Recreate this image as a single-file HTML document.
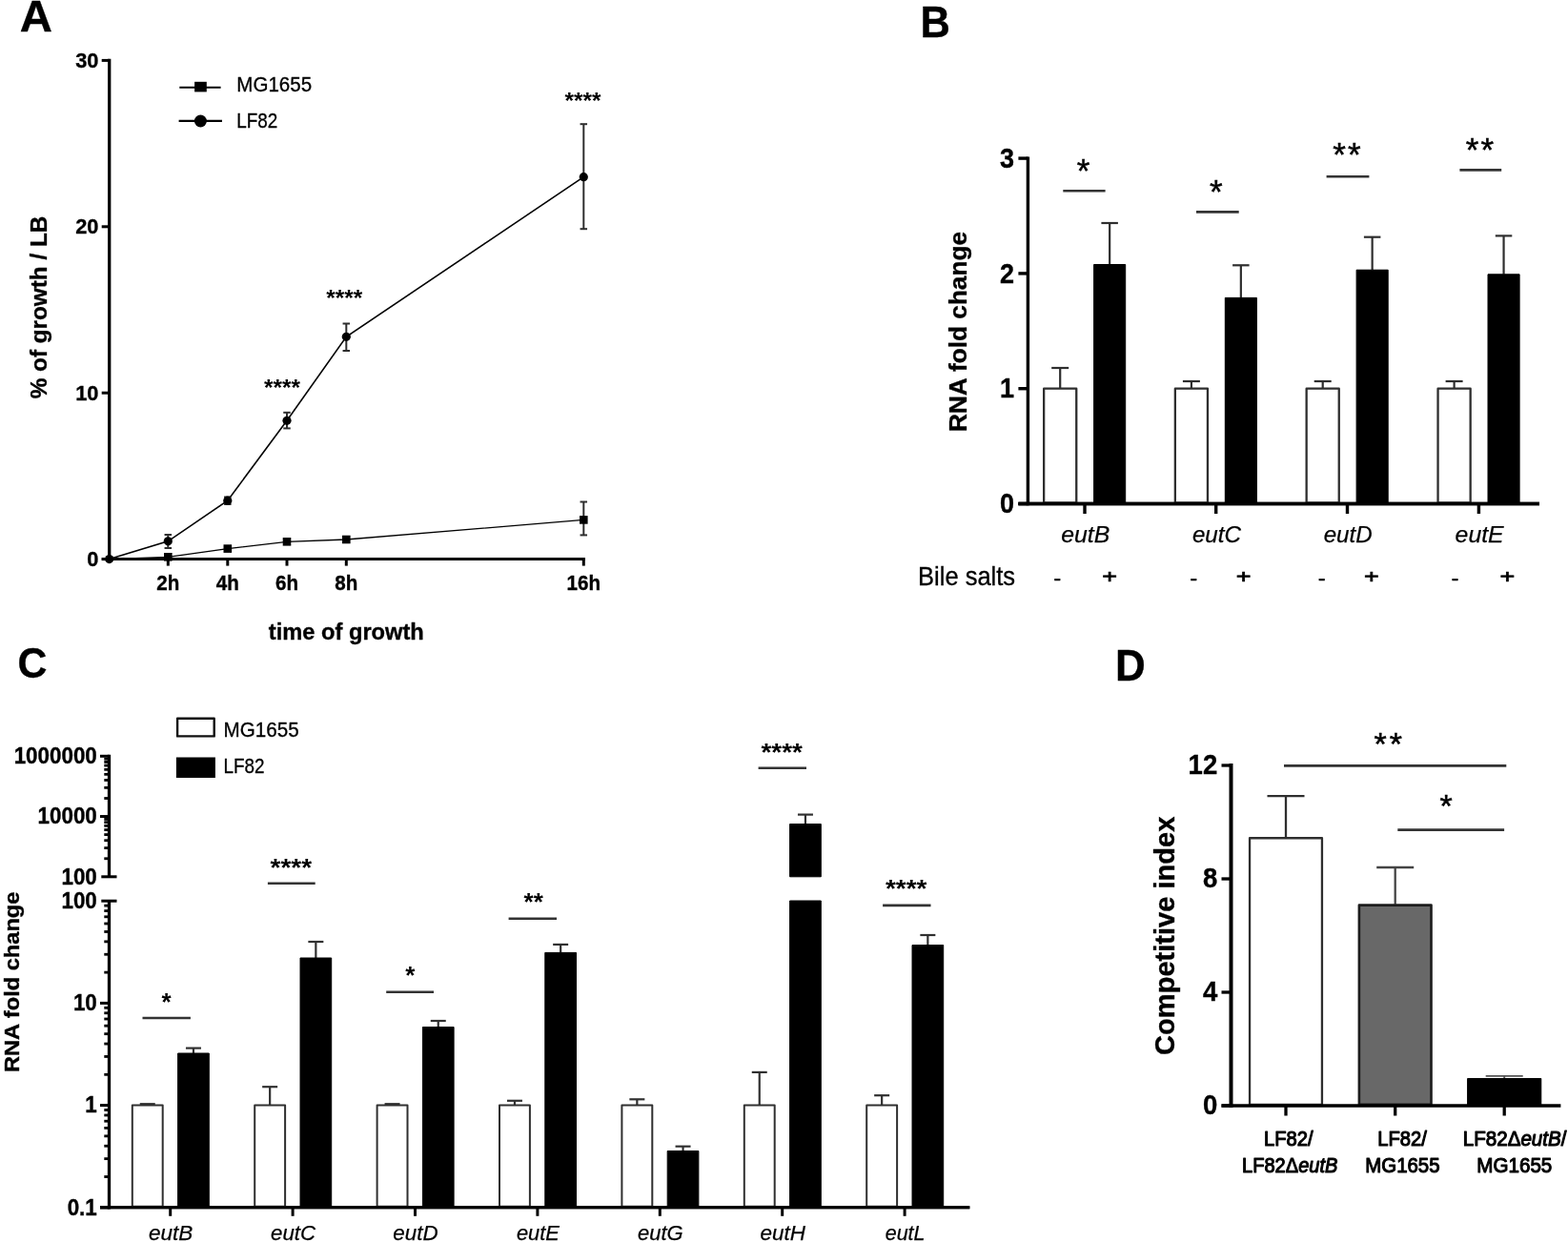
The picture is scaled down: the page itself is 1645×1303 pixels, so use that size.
<!DOCTYPE html>
<html lang="en">
<head>
<meta charset="utf-8">
<title>Figure: ethanolamine utilisation (eut) in LF82 and MG1655</title>
<style>
html,body{margin:0;padding:0;background:#fff;}
body{width:1645px;height:1303px;overflow:hidden;}
svg{display:block;}
text{font-family:"Liberation Sans",sans-serif;fill:#000;}
.b{font-weight:bold;stroke:#000;stroke-width:0.35px;}
.t{font-weight:bold;}
.r{font-weight:normal;}
.i{font-weight:normal;font-style:italic;stroke:#000;stroke-width:0.25px;}
.m{font-weight:normal;stroke:#000;stroke-width:1px;stroke-linejoin:round;}
.l{font-weight:normal;stroke:#000;stroke-width:0.3px;}
.s{font-weight:normal;stroke:#000;stroke-width:0.5px;}
.p{font-weight:normal;stroke:#000;stroke-width:0.9px;}
</style>
</head>
<body>
<svg width="1645" height="1303" viewBox="0 0 1645 1303">
<rect x="0" y="0" width="1645" height="1303" fill="#fff"/>
<g id="panelA">
<text class="b" transform="translate(20.72 32.8) scale(1.023 1)" font-size="46.25">A</text>
<line x1="114.7" y1="61.75" x2="114.7" y2="588.25" stroke="#000" stroke-width="3.3"/>
<line x1="106.7" y1="586.6" x2="613.95" y2="586.6" stroke="#000" stroke-width="3"/>
<line x1="106.7" y1="586.6" x2="114.7" y2="586.6" stroke="#000" stroke-width="3"/>
<text class="b" transform="translate(103.5 594.2) scale(1 1.05)" font-size="21.8" text-anchor="end">0</text>
<line x1="106.7" y1="412.2" x2="114.7" y2="412.2" stroke="#000" stroke-width="3"/>
<text class="b" transform="translate(103.5 419.8) scale(1 1.05)" font-size="21.8" text-anchor="end">10</text>
<line x1="106.7" y1="237.8" x2="114.7" y2="237.8" stroke="#000" stroke-width="3"/>
<text class="b" transform="translate(103.5 245.4) scale(1 1.05)" font-size="21.8" text-anchor="end">20</text>
<line x1="106.7" y1="63.4" x2="114.7" y2="63.4" stroke="#000" stroke-width="3"/>
<text class="b" transform="translate(103.5 71) scale(1 1.05)" font-size="21.8" text-anchor="end">30</text>
<line x1="176.3" y1="586.6" x2="176.3" y2="593.6" stroke="#000" stroke-width="3"/>
<text class="b" transform="translate(176.3 619.3) scale(1 1.1)" font-size="20.6" text-anchor="middle">2h</text>
<line x1="238.8" y1="586.6" x2="238.8" y2="593.6" stroke="#000" stroke-width="3"/>
<text class="b" transform="translate(238.8 619.3) scale(1 1.1)" font-size="20.6" text-anchor="middle">4h</text>
<line x1="301" y1="586.6" x2="301" y2="593.6" stroke="#000" stroke-width="3"/>
<text class="b" transform="translate(301 619.3) scale(1 1.1)" font-size="20.6" text-anchor="middle">6h</text>
<line x1="363.3" y1="586.6" x2="363.3" y2="593.6" stroke="#000" stroke-width="3"/>
<text class="b" transform="translate(363.3 619.3) scale(1 1.1)" font-size="20.6" text-anchor="middle">8h</text>
<line x1="612.3" y1="586.6" x2="612.3" y2="593.6" stroke="#000" stroke-width="3"/>
<text class="b" transform="translate(612.3 619.3) scale(1 1.1)" font-size="20.6" text-anchor="middle">16h</text>
<text class="b" x="363.3" y="671.3" font-size="23.5" text-anchor="middle" textLength="163" lengthAdjust="spacingAndGlyphs">time of growth</text>
<text class="b" transform="translate(49.4 322.5) rotate(-90)" font-size="23.6" text-anchor="middle" textLength="191.5" lengthAdjust="spacingAndGlyphs">% of growth / LB</text>
<line x1="188.3" y1="91.7" x2="231.6" y2="91.7" stroke="#000" stroke-width="2.1"/>
<rect x="204.1" y="85.8" width="12.7" height="10.6" fill="#000"/>
<text class="l" transform="translate(248.3 95.8) scale(1 1.07)" font-size="20.5" textLength="78.8" lengthAdjust="spacingAndGlyphs">MG1655</text>
<line x1="187.6" y1="126.9" x2="233" y2="126.9" stroke="#000" stroke-width="2.1"/>
<circle cx="210.4" cy="127" r="6.5" fill="#000"/>
<text class="l" transform="translate(248.3 134) scale(1 1.07)" font-size="20.5" textLength="43" lengthAdjust="spacingAndGlyphs">LF82</text>
<polyline points="114.7,586.6 176.3,584.3 238.8,575.6 301,568.3 363.3,566 612.3,545.4" fill="none" stroke="#000" stroke-width="1.3"/>
<polyline points="114.7,586.6 176.3,567.8 238.8,525.2 301,441.3 363.3,353.3 612.3,185.7" fill="none" stroke="#000" stroke-width="1.6"/>
<rect x="172" y="580" width="8.6" height="8.6" fill="#000"/>
<rect x="234.5" y="571.3" width="8.6" height="8.6" fill="#000"/>
<rect x="296.7" y="564" width="8.6" height="8.6" fill="#000"/>
<rect x="359" y="561.7" width="8.6" height="8.6" fill="#000"/>
<line x1="612.3" y1="526.5" x2="612.3" y2="561.4" stroke="#2e2e2e" stroke-width="2"/>
<line x1="608.55" y1="526.5" x2="616.05" y2="526.5" stroke="#2e2e2e" stroke-width="2"/>
<line x1="608.55" y1="561.4" x2="616.05" y2="561.4" stroke="#2e2e2e" stroke-width="2"/>
<rect x="608" y="541.1" width="8.6" height="8.6" fill="#000"/>
<circle cx="114.7" cy="586.6" r="4.6" fill="#000"/>
<line x1="176.3" y1="561" x2="176.3" y2="575" stroke="#2e2e2e" stroke-width="2"/>
<line x1="172.55" y1="561" x2="180.05" y2="561" stroke="#2e2e2e" stroke-width="2"/>
<line x1="172.55" y1="575" x2="180.05" y2="575" stroke="#2e2e2e" stroke-width="2"/>
<circle cx="176.3" cy="567.8" r="4.6" fill="#000"/>
<line x1="238.8" y1="521.5" x2="238.8" y2="529" stroke="#2e2e2e" stroke-width="2"/>
<line x1="235.05" y1="521.5" x2="242.55" y2="521.5" stroke="#2e2e2e" stroke-width="2"/>
<line x1="235.05" y1="529" x2="242.55" y2="529" stroke="#2e2e2e" stroke-width="2"/>
<circle cx="238.8" cy="525.2" r="4.6" fill="#000"/>
<line x1="301" y1="432.8" x2="301" y2="449.4" stroke="#2e2e2e" stroke-width="2"/>
<line x1="297.25" y1="432.8" x2="304.75" y2="432.8" stroke="#2e2e2e" stroke-width="2"/>
<line x1="297.25" y1="449.4" x2="304.75" y2="449.4" stroke="#2e2e2e" stroke-width="2"/>
<circle cx="301" cy="441.3" r="4.6" fill="#000"/>
<line x1="363.3" y1="339.5" x2="363.3" y2="368" stroke="#2e2e2e" stroke-width="2"/>
<line x1="359.55" y1="339.5" x2="367.05" y2="339.5" stroke="#2e2e2e" stroke-width="2"/>
<line x1="359.55" y1="368" x2="367.05" y2="368" stroke="#2e2e2e" stroke-width="2"/>
<circle cx="363.3" cy="353.3" r="4.6" fill="#000"/>
<line x1="612.3" y1="130.2" x2="612.3" y2="240.2" stroke="#2e2e2e" stroke-width="2"/>
<line x1="608.55" y1="130.2" x2="616.05" y2="130.2" stroke="#2e2e2e" stroke-width="2"/>
<line x1="608.55" y1="240.2" x2="616.05" y2="240.2" stroke="#2e2e2e" stroke-width="2"/>
<circle cx="612.3" cy="185.7" r="4.6" fill="#000"/>
<text class="t" x="611.5" y="113.5" font-size="24" text-anchor="middle" textLength="38" lengthAdjust="spacingAndGlyphs">****</text>
<text class="t" x="361.2" y="320.5" font-size="24" text-anchor="middle" textLength="38" lengthAdjust="spacingAndGlyphs">****</text>
<text class="t" x="296" y="415" font-size="24" text-anchor="middle" textLength="38" lengthAdjust="spacingAndGlyphs">****</text>
</g>
<g id="panelB">
<text class="b" transform="translate(965.57 38.5) scale(0.936 1)" font-size="46.4">B</text>
<line x1="1078.4" y1="164.4" x2="1078.4" y2="530.2" stroke="#000" stroke-width="3.4"/>
<line x1="1068.4" y1="528.5" x2="1615" y2="528.5" stroke="#000" stroke-width="3.4"/>
<line x1="1068.4" y1="528.5" x2="1078.4" y2="528.5" stroke="#000" stroke-width="3.4"/>
<text class="b" transform="translate(1063.9 538.1) scale(1 1.09)" font-size="27" text-anchor="end">0</text>
<line x1="1068.4" y1="407.7" x2="1078.4" y2="407.7" stroke="#000" stroke-width="3.4"/>
<text class="b" transform="translate(1063.9 417.3) scale(1 1.09)" font-size="27" text-anchor="end">1</text>
<line x1="1068.4" y1="286.9" x2="1078.4" y2="286.9" stroke="#000" stroke-width="3.4"/>
<text class="b" transform="translate(1063.9 296.5) scale(1 1.09)" font-size="27" text-anchor="end">2</text>
<line x1="1068.4" y1="166.1" x2="1078.4" y2="166.1" stroke="#000" stroke-width="3.4"/>
<text class="b" transform="translate(1063.9 175.7) scale(1 1.09)" font-size="27" text-anchor="end">3</text>
<line x1="1138" y1="528.5" x2="1138" y2="539" stroke="#000" stroke-width="3.4"/>
<text class="i" x="1138.7" y="569.1" font-size="24" text-anchor="middle" textLength="51" lengthAdjust="spacingAndGlyphs">eutB</text>
<rect x="1095.15" y="407.65" width="34.1" height="119.7" fill="#fff" stroke="#2e2e2e" stroke-width="2.3" stroke-linejoin="round"/>
<line x1="1112.2" y1="386" x2="1112.2" y2="407" stroke="#2e2e2e" stroke-width="2.2"/>
<line x1="1103.2" y1="386" x2="1121.2" y2="386" stroke="#2e2e2e" stroke-width="2.2"/>
<line x1="1164.15" y1="234" x2="1164.15" y2="277.5" stroke="#2e2e2e" stroke-width="2.2"/>
<line x1="1155.4" y1="234" x2="1172.9" y2="234" stroke="#2e2e2e" stroke-width="2.2"/>
<rect x="1147.6" y="277.5" width="33.1" height="250.5" fill="#000" stroke="#000" stroke-width="1" stroke-linejoin="round"/>
<text class="l" x="1109.3" y="614.1" font-size="24" text-anchor="middle">-</text>
<text class="p" transform="translate(1164 611.6) scale(1 0.72)" font-size="27" text-anchor="middle">+</text>
<line x1="1275.7" y1="528.5" x2="1275.7" y2="539" stroke="#000" stroke-width="3.4"/>
<text class="i" x="1276.4" y="569.1" font-size="24" text-anchor="middle" textLength="51" lengthAdjust="spacingAndGlyphs">eutC</text>
<rect x="1232.85" y="407.65" width="34.1" height="119.7" fill="#fff" stroke="#2e2e2e" stroke-width="2.3" stroke-linejoin="round"/>
<line x1="1249.9" y1="400" x2="1249.9" y2="407" stroke="#2e2e2e" stroke-width="2.2"/>
<line x1="1240.9" y1="400" x2="1258.9" y2="400" stroke="#2e2e2e" stroke-width="2.2"/>
<line x1="1301.85" y1="278.3" x2="1301.85" y2="312.4" stroke="#2e2e2e" stroke-width="2.2"/>
<line x1="1293.1" y1="278.3" x2="1310.6" y2="278.3" stroke="#2e2e2e" stroke-width="2.2"/>
<rect x="1285.3" y="312.4" width="33.1" height="215.6" fill="#000" stroke="#000" stroke-width="1" stroke-linejoin="round"/>
<text class="l" x="1252.3" y="614.1" font-size="24" text-anchor="middle">-</text>
<text class="p" transform="translate(1304.6 611.6) scale(1 0.72)" font-size="27" text-anchor="middle">+</text>
<line x1="1413.5" y1="528.5" x2="1413.5" y2="539" stroke="#000" stroke-width="3.4"/>
<text class="i" x="1414.2" y="569.1" font-size="24" text-anchor="middle" textLength="51" lengthAdjust="spacingAndGlyphs">eutD</text>
<rect x="1370.65" y="407.65" width="34.1" height="119.7" fill="#fff" stroke="#2e2e2e" stroke-width="2.3" stroke-linejoin="round"/>
<line x1="1387.7" y1="400" x2="1387.7" y2="407" stroke="#2e2e2e" stroke-width="2.2"/>
<line x1="1378.7" y1="400" x2="1396.7" y2="400" stroke="#2e2e2e" stroke-width="2.2"/>
<line x1="1439.65" y1="248.7" x2="1439.65" y2="283.2" stroke="#2e2e2e" stroke-width="2.2"/>
<line x1="1430.9" y1="248.7" x2="1448.4" y2="248.7" stroke="#2e2e2e" stroke-width="2.2"/>
<rect x="1423.1" y="283.2" width="33.1" height="244.8" fill="#000" stroke="#000" stroke-width="1" stroke-linejoin="round"/>
<text class="l" x="1386.8" y="614.1" font-size="24" text-anchor="middle">-</text>
<text class="p" transform="translate(1438.8 611.6) scale(1 0.72)" font-size="27" text-anchor="middle">+</text>
<line x1="1551.4" y1="528.5" x2="1551.4" y2="539" stroke="#000" stroke-width="3.4"/>
<text class="i" x="1552.1" y="569.1" font-size="24" text-anchor="middle" textLength="51" lengthAdjust="spacingAndGlyphs">eutE</text>
<rect x="1508.55" y="407.65" width="34.1" height="119.7" fill="#fff" stroke="#2e2e2e" stroke-width="2.3" stroke-linejoin="round"/>
<line x1="1525.6" y1="400" x2="1525.6" y2="407" stroke="#2e2e2e" stroke-width="2.2"/>
<line x1="1516.6" y1="400" x2="1534.6" y2="400" stroke="#2e2e2e" stroke-width="2.2"/>
<line x1="1577.55" y1="247.4" x2="1577.55" y2="287.8" stroke="#2e2e2e" stroke-width="2.2"/>
<line x1="1568.8" y1="247.4" x2="1586.3" y2="247.4" stroke="#2e2e2e" stroke-width="2.2"/>
<rect x="1561" y="287.8" width="33.1" height="240.2" fill="#000" stroke="#000" stroke-width="1" stroke-linejoin="round"/>
<text class="l" x="1526.6" y="614.1" font-size="24" text-anchor="middle">-</text>
<text class="p" transform="translate(1581.3 611.6) scale(1 0.72)" font-size="27" text-anchor="middle">+</text>
<line x1="1068.4" y1="528.5" x2="1615" y2="528.5" stroke="#000" stroke-width="3.4"/>
<line x1="1115.3" y1="200.3" x2="1159.6" y2="200.3" stroke="#333" stroke-width="2.6"/>
<text class="s" x="1136.5" y="191.2" font-size="35" text-anchor="middle">*</text>
<line x1="1255" y1="222.4" x2="1299.7" y2="222.4" stroke="#333" stroke-width="2.6"/>
<text class="s" x="1275.8" y="213.2" font-size="35" text-anchor="middle">*</text>
<line x1="1391.6" y1="185.3" x2="1436.4" y2="185.3" stroke="#333" stroke-width="2.6"/>
<text class="s" x="1414" y="174.3" font-size="35" text-anchor="middle" letter-spacing="2.2">**</text>
<line x1="1531.4" y1="178.4" x2="1575.2" y2="178.4" stroke="#333" stroke-width="2.6"/>
<text class="s" x="1553.6" y="169.3" font-size="35" text-anchor="middle" letter-spacing="2.2">**</text>
<text class="b" transform="translate(1014.4 348) rotate(-90)" font-size="26" text-anchor="middle" textLength="210" lengthAdjust="spacingAndGlyphs">RNA fold change</text>
<text class="l" transform="translate(963.1 613.7) scale(1 1.1)" font-size="24.5" textLength="102" lengthAdjust="spacingAndGlyphs">Bile salts</text>
</g>
<g id="panelC">
<text class="b" transform="translate(18.39 711.35) scale(0.954 1)" font-size="44.81">C</text>
<rect x="186.1" y="753.7" width="38.6" height="18.7" fill="#fff" stroke="#111" stroke-width="2.4" stroke-linejoin="round"/>
<rect x="184.9" y="794.5" width="41" height="21.5" fill="#000"/>
<text class="l" transform="translate(234.6 772.7) scale(1 1.07)" font-size="20.5" textLength="79" lengthAdjust="spacingAndGlyphs">MG1655</text>
<text class="l" transform="translate(234.6 810.7) scale(1 1.07)" font-size="20.5" textLength="43" lengthAdjust="spacingAndGlyphs">LF82</text>
<line x1="114.5" y1="791.8" x2="114.5" y2="919.8" stroke="#000" stroke-width="3.3"/>
<line x1="105" y1="793.3" x2="114.5" y2="793.3" stroke="#000" stroke-width="3"/>
<text class="b" transform="translate(101.8 801.1) scale(1 1.05)" font-size="22.4" text-anchor="end">1000000</text>
<line x1="105" y1="856.55" x2="114.5" y2="856.55" stroke="#000" stroke-width="3"/>
<text class="b" transform="translate(101.8 864.35) scale(1 1.05)" font-size="22.4" text-anchor="end">10000</text>
<line x1="106.3" y1="919.8" x2="122.5" y2="919.8" stroke="#000" stroke-width="3"/>
<text class="b" transform="translate(101.8 927.6) scale(1 1.05)" font-size="22.4" text-anchor="end">100</text>
<line x1="109.3" y1="837.51" x2="114.5" y2="837.51" stroke="#000" stroke-width="2.8"/>
<line x1="109.3" y1="826.37" x2="114.5" y2="826.37" stroke="#000" stroke-width="2.8"/>
<line x1="109.3" y1="818.47" x2="114.5" y2="818.47" stroke="#000" stroke-width="2.8"/>
<line x1="109.3" y1="812.34" x2="114.5" y2="812.34" stroke="#000" stroke-width="2.8"/>
<line x1="109.3" y1="807.33" x2="114.5" y2="807.33" stroke="#000" stroke-width="2.8"/>
<line x1="109.3" y1="803.1" x2="114.5" y2="803.1" stroke="#000" stroke-width="2.8"/>
<line x1="109.3" y1="799.43" x2="114.5" y2="799.43" stroke="#000" stroke-width="2.8"/>
<line x1="109.3" y1="796.19" x2="114.5" y2="796.19" stroke="#000" stroke-width="2.8"/>
<line x1="109.3" y1="900.76" x2="114.5" y2="900.76" stroke="#000" stroke-width="2.8"/>
<line x1="109.3" y1="889.62" x2="114.5" y2="889.62" stroke="#000" stroke-width="2.8"/>
<line x1="109.3" y1="881.72" x2="114.5" y2="881.72" stroke="#000" stroke-width="2.8"/>
<line x1="109.3" y1="875.59" x2="114.5" y2="875.59" stroke="#000" stroke-width="2.8"/>
<line x1="109.3" y1="870.58" x2="114.5" y2="870.58" stroke="#000" stroke-width="2.8"/>
<line x1="109.3" y1="866.35" x2="114.5" y2="866.35" stroke="#000" stroke-width="2.8"/>
<line x1="109.3" y1="862.68" x2="114.5" y2="862.68" stroke="#000" stroke-width="2.8"/>
<line x1="109.3" y1="859.44" x2="114.5" y2="859.44" stroke="#000" stroke-width="2.8"/>
<line x1="114.5" y1="945.2" x2="114.5" y2="1268.45" stroke="#000" stroke-width="3.3"/>
<line x1="106.3" y1="945.2" x2="122.5" y2="945.2" stroke="#000" stroke-width="3"/>
<text class="b" transform="translate(101.8 953) scale(1 1.05)" font-size="22.4" text-anchor="end">100</text>
<line x1="105" y1="1052.4" x2="114.5" y2="1052.4" stroke="#000" stroke-width="3"/>
<text class="b" transform="translate(101.8 1060.2) scale(1 1.05)" font-size="22.4" text-anchor="end">10</text>
<line x1="105" y1="1159.6" x2="114.5" y2="1159.6" stroke="#000" stroke-width="3"/>
<text class="b" transform="translate(101.8 1167.4) scale(1 1.05)" font-size="22.4" text-anchor="end">1</text>
<line x1="105" y1="1266.8" x2="114.5" y2="1266.8" stroke="#000" stroke-width="3"/>
<text class="b" transform="translate(101.8 1274.6) scale(1 1.05)" font-size="22.4" text-anchor="end">0.1</text>
<line x1="109.3" y1="1020.13" x2="114.5" y2="1020.13" stroke="#000" stroke-width="2.8"/>
<line x1="109.3" y1="1001.25" x2="114.5" y2="1001.25" stroke="#000" stroke-width="2.8"/>
<line x1="109.3" y1="987.86" x2="114.5" y2="987.86" stroke="#000" stroke-width="2.8"/>
<line x1="109.3" y1="977.47" x2="114.5" y2="977.47" stroke="#000" stroke-width="2.8"/>
<line x1="109.3" y1="968.98" x2="114.5" y2="968.98" stroke="#000" stroke-width="2.8"/>
<line x1="109.3" y1="961.81" x2="114.5" y2="961.81" stroke="#000" stroke-width="2.8"/>
<line x1="109.3" y1="955.59" x2="114.5" y2="955.59" stroke="#000" stroke-width="2.8"/>
<line x1="109.3" y1="950.11" x2="114.5" y2="950.11" stroke="#000" stroke-width="2.8"/>
<line x1="109.3" y1="1127.33" x2="114.5" y2="1127.33" stroke="#000" stroke-width="2.8"/>
<line x1="109.3" y1="1108.45" x2="114.5" y2="1108.45" stroke="#000" stroke-width="2.8"/>
<line x1="109.3" y1="1095.06" x2="114.5" y2="1095.06" stroke="#000" stroke-width="2.8"/>
<line x1="109.3" y1="1084.67" x2="114.5" y2="1084.67" stroke="#000" stroke-width="2.8"/>
<line x1="109.3" y1="1076.18" x2="114.5" y2="1076.18" stroke="#000" stroke-width="2.8"/>
<line x1="109.3" y1="1069.01" x2="114.5" y2="1069.01" stroke="#000" stroke-width="2.8"/>
<line x1="109.3" y1="1062.79" x2="114.5" y2="1062.79" stroke="#000" stroke-width="2.8"/>
<line x1="109.3" y1="1057.31" x2="114.5" y2="1057.31" stroke="#000" stroke-width="2.8"/>
<line x1="109.3" y1="1234.53" x2="114.5" y2="1234.53" stroke="#000" stroke-width="2.8"/>
<line x1="109.3" y1="1215.65" x2="114.5" y2="1215.65" stroke="#000" stroke-width="2.8"/>
<line x1="109.3" y1="1202.26" x2="114.5" y2="1202.26" stroke="#000" stroke-width="2.8"/>
<line x1="109.3" y1="1191.87" x2="114.5" y2="1191.87" stroke="#000" stroke-width="2.8"/>
<line x1="109.3" y1="1183.38" x2="114.5" y2="1183.38" stroke="#000" stroke-width="2.8"/>
<line x1="109.3" y1="1176.21" x2="114.5" y2="1176.21" stroke="#000" stroke-width="2.8"/>
<line x1="109.3" y1="1169.99" x2="114.5" y2="1169.99" stroke="#000" stroke-width="2.8"/>
<line x1="109.3" y1="1164.51" x2="114.5" y2="1164.51" stroke="#000" stroke-width="2.8"/>
<line x1="105" y1="1266.8" x2="1017.3" y2="1266.8" stroke="#000" stroke-width="3.1"/>
<line x1="178.7" y1="1266.8" x2="178.7" y2="1275.8" stroke="#000" stroke-width="3"/>
<text class="i" x="179.2" y="1301.2" font-size="22.5" text-anchor="middle" textLength="46.5" lengthAdjust="spacingAndGlyphs">eutB</text>
<rect x="138.8" y="1159.5" width="31.9" height="106.3" fill="#fff" stroke="#303030" stroke-width="2" stroke-linejoin="round"/>
<line x1="154.75" y1="1158.2" x2="154.75" y2="1159" stroke="#303030" stroke-width="2.2"/>
<line x1="146.75" y1="1158.2" x2="162.75" y2="1158.2" stroke="#303030" stroke-width="2.2"/>
<line x1="202.95" y1="1099.6" x2="202.95" y2="1105" stroke="#303030" stroke-width="2.2"/>
<line x1="194.95" y1="1099.6" x2="210.95" y2="1099.6" stroke="#303030" stroke-width="2.2"/>
<rect x="186.6" y="1105" width="32.7" height="161.3" fill="#000" stroke="#000" stroke-width="1" stroke-linejoin="round"/>
<line x1="307.1" y1="1266.8" x2="307.1" y2="1275.8" stroke="#000" stroke-width="3"/>
<text class="i" x="307.6" y="1301.2" font-size="22.5" text-anchor="middle" textLength="47" lengthAdjust="spacingAndGlyphs">eutC</text>
<rect x="267.2" y="1159.5" width="31.9" height="106.3" fill="#fff" stroke="#303030" stroke-width="2" stroke-linejoin="round"/>
<line x1="283.15" y1="1140.2" x2="283.15" y2="1159" stroke="#303030" stroke-width="2.2"/>
<line x1="275.15" y1="1140.2" x2="291.15" y2="1140.2" stroke="#303030" stroke-width="2.2"/>
<line x1="331.35" y1="988" x2="331.35" y2="1005" stroke="#303030" stroke-width="2.2"/>
<line x1="323.35" y1="988" x2="339.35" y2="988" stroke="#303030" stroke-width="2.2"/>
<rect x="315" y="1005" width="32.7" height="261.3" fill="#000" stroke="#000" stroke-width="1" stroke-linejoin="round"/>
<line x1="435.5" y1="1266.8" x2="435.5" y2="1275.8" stroke="#000" stroke-width="3"/>
<text class="i" x="436" y="1301.2" font-size="22.5" text-anchor="middle" textLength="47.3" lengthAdjust="spacingAndGlyphs">eutD</text>
<rect x="395.6" y="1159.5" width="31.9" height="106.3" fill="#fff" stroke="#303030" stroke-width="2" stroke-linejoin="round"/>
<line x1="411.55" y1="1158.2" x2="411.55" y2="1159" stroke="#303030" stroke-width="2.2"/>
<line x1="403.55" y1="1158.2" x2="419.55" y2="1158.2" stroke="#303030" stroke-width="2.2"/>
<line x1="459.75" y1="1071" x2="459.75" y2="1077.5" stroke="#303030" stroke-width="2.2"/>
<line x1="451.75" y1="1071" x2="467.75" y2="1071" stroke="#303030" stroke-width="2.2"/>
<rect x="443.4" y="1077.5" width="32.7" height="188.8" fill="#000" stroke="#000" stroke-width="1" stroke-linejoin="round"/>
<line x1="563.9" y1="1266.8" x2="563.9" y2="1275.8" stroke="#000" stroke-width="3"/>
<text class="i" x="564.4" y="1301.2" font-size="22.5" text-anchor="middle" textLength="45" lengthAdjust="spacingAndGlyphs">eutE</text>
<rect x="524" y="1159.5" width="31.9" height="106.3" fill="#fff" stroke="#303030" stroke-width="2" stroke-linejoin="round"/>
<line x1="539.95" y1="1154.8" x2="539.95" y2="1159" stroke="#303030" stroke-width="2.2"/>
<line x1="531.95" y1="1154.8" x2="547.95" y2="1154.8" stroke="#303030" stroke-width="2.2"/>
<line x1="588.15" y1="990.9" x2="588.15" y2="999.4" stroke="#303030" stroke-width="2.2"/>
<line x1="580.15" y1="990.9" x2="596.15" y2="990.9" stroke="#303030" stroke-width="2.2"/>
<rect x="571.8" y="999.4" width="32.7" height="266.9" fill="#000" stroke="#000" stroke-width="1" stroke-linejoin="round"/>
<line x1="692.3" y1="1266.8" x2="692.3" y2="1275.8" stroke="#000" stroke-width="3"/>
<text class="i" x="692.8" y="1301.2" font-size="22.5" text-anchor="middle" textLength="47.7" lengthAdjust="spacingAndGlyphs">eutG</text>
<rect x="652.4" y="1159.5" width="31.9" height="106.3" fill="#fff" stroke="#303030" stroke-width="2" stroke-linejoin="round"/>
<line x1="668.35" y1="1153.3" x2="668.35" y2="1159" stroke="#303030" stroke-width="2.2"/>
<line x1="660.35" y1="1153.3" x2="676.35" y2="1153.3" stroke="#303030" stroke-width="2.2"/>
<line x1="716.55" y1="1202.7" x2="716.55" y2="1207.5" stroke="#303030" stroke-width="2.2"/>
<line x1="708.55" y1="1202.7" x2="724.55" y2="1202.7" stroke="#303030" stroke-width="2.2"/>
<rect x="700.2" y="1207.5" width="32.7" height="58.8" fill="#000" stroke="#000" stroke-width="1" stroke-linejoin="round"/>
<line x1="820.7" y1="1266.8" x2="820.7" y2="1275.8" stroke="#000" stroke-width="3"/>
<text class="i" x="821.2" y="1301.2" font-size="22.5" text-anchor="middle" textLength="47.5" lengthAdjust="spacingAndGlyphs">eutH</text>
<rect x="780.8" y="1159.5" width="31.9" height="106.3" fill="#fff" stroke="#303030" stroke-width="2" stroke-linejoin="round"/>
<line x1="796.75" y1="1124.9" x2="796.75" y2="1159" stroke="#303030" stroke-width="2.2"/>
<line x1="788.75" y1="1124.9" x2="804.75" y2="1124.9" stroke="#303030" stroke-width="2.2"/>
<line x1="844.95" y1="854.6" x2="844.95" y2="864.5" stroke="#303030" stroke-width="2.2"/>
<line x1="836.95" y1="854.6" x2="852.95" y2="854.6" stroke="#303030" stroke-width="2.2"/>
<rect x="828.6" y="864.5" width="32.7" height="55.3" fill="#000" stroke="#000" stroke-width="1" stroke-linejoin="round"/>
<rect x="828.6" y="945" width="32.7" height="321.3" fill="#000" stroke="#000" stroke-width="1" stroke-linejoin="round"/>
<line x1="949.1" y1="1266.8" x2="949.1" y2="1275.8" stroke="#000" stroke-width="3"/>
<text class="i" x="949.6" y="1301.2" font-size="22.5" text-anchor="middle" textLength="41.8" lengthAdjust="spacingAndGlyphs">eutL</text>
<rect x="909.2" y="1159.5" width="31.9" height="106.3" fill="#fff" stroke="#303030" stroke-width="2" stroke-linejoin="round"/>
<line x1="925.15" y1="1149.2" x2="925.15" y2="1159" stroke="#303030" stroke-width="2.2"/>
<line x1="917.15" y1="1149.2" x2="933.15" y2="1149.2" stroke="#303030" stroke-width="2.2"/>
<line x1="973.35" y1="981" x2="973.35" y2="991.5" stroke="#303030" stroke-width="2.2"/>
<line x1="965.35" y1="981" x2="981.35" y2="981" stroke="#303030" stroke-width="2.2"/>
<rect x="957" y="991.5" width="32.7" height="274.8" fill="#000" stroke="#000" stroke-width="1" stroke-linejoin="round"/>
<line x1="105" y1="1266.8" x2="1017.3" y2="1266.8" stroke="#000" stroke-width="3.1"/>
<line x1="149.5" y1="1068" x2="199.9" y2="1068" stroke="#333" stroke-width="2.6"/>
<text class="t" x="174.6" y="1060.3" font-size="26" text-anchor="middle">*</text>
<line x1="280.9" y1="926.8" x2="330.7" y2="926.8" stroke="#333" stroke-width="2.6"/>
<text class="t" x="305.3" y="918.5" font-size="26" text-anchor="middle" textLength="43.5" lengthAdjust="spacingAndGlyphs">****</text>
<line x1="405.2" y1="1040.8" x2="455" y2="1040.8" stroke="#333" stroke-width="2.6"/>
<text class="t" x="430.2" y="1032.3" font-size="26" text-anchor="middle">*</text>
<line x1="533.6" y1="963.7" x2="584" y2="963.7" stroke="#333" stroke-width="2.6"/>
<text class="t" x="559.7" y="955.2" font-size="26" text-anchor="middle">**</text>
<line x1="795.6" y1="805.7" x2="846" y2="805.7" stroke="#333" stroke-width="2.6"/>
<text class="t" x="820.2" y="797.5" font-size="26" text-anchor="middle" textLength="43.5" lengthAdjust="spacingAndGlyphs">****</text>
<line x1="926.1" y1="949.9" x2="976.5" y2="949.9" stroke="#333" stroke-width="2.6"/>
<text class="t" x="950.7" y="940.5" font-size="26" text-anchor="middle" textLength="43.5" lengthAdjust="spacingAndGlyphs">****</text>
<text class="b" transform="translate(19.8 1030.3) rotate(-90)" font-size="22.8" text-anchor="middle" textLength="189.5" lengthAdjust="spacingAndGlyphs">RNA fold change</text>
</g>
<g id="panelD">
<text class="b" transform="translate(1170.04 713.7) scale(0.956 1)" font-size="45.96">D</text>
<line x1="1291.5" y1="801" x2="1291.5" y2="1162" stroke="#000" stroke-width="4"/>
<line x1="1281.5" y1="1160" x2="1291.5" y2="1160" stroke="#000" stroke-width="3.3"/>
<text class="b" transform="translate(1277.2 1169) scale(1 1.04)" font-size="27.5" text-anchor="end">0</text>
<line x1="1281.5" y1="1041" x2="1291.5" y2="1041" stroke="#000" stroke-width="3.3"/>
<text class="b" transform="translate(1277.2 1050) scale(1 1.04)" font-size="27.5" text-anchor="end">4</text>
<line x1="1281.5" y1="922" x2="1291.5" y2="922" stroke="#000" stroke-width="3.3"/>
<text class="b" transform="translate(1277.2 931) scale(1 1.04)" font-size="27.5" text-anchor="end">8</text>
<line x1="1281.5" y1="803" x2="1291.5" y2="803" stroke="#000" stroke-width="3.3"/>
<text class="b" transform="translate(1277.2 812) scale(1 1.04)" font-size="27.5" text-anchor="end">12</text>
<line x1="1349" y1="1160" x2="1349" y2="1170.5" stroke="#000" stroke-width="3.3"/>
<line x1="1349" y1="835.1" x2="1349" y2="878.6" stroke="#2e2e2e" stroke-width="2.3"/>
<line x1="1329.5" y1="835.1" x2="1368.5" y2="835.1" stroke="#2e2e2e" stroke-width="2.3"/>
<rect x="1311.05" y="879.25" width="75.9" height="279.6" fill="#fff" stroke="#2e2e2e" stroke-width="2.3" stroke-linejoin="round"/>
<line x1="1463.7" y1="1160" x2="1463.7" y2="1170.5" stroke="#000" stroke-width="3.3"/>
<line x1="1463.7" y1="910" x2="1463.7" y2="948.8" stroke="#444" stroke-width="2.3"/>
<line x1="1444.2" y1="910" x2="1483.2" y2="910" stroke="#444" stroke-width="2.3"/>
<rect x="1425.9" y="949.6" width="75.6" height="209.1" fill="#686868" stroke="#1c1c1c" stroke-width="2.6" stroke-linejoin="round"/>
<line x1="1578.2" y1="1160" x2="1578.2" y2="1170.5" stroke="#000" stroke-width="3.3"/>
<line x1="1578.2" y1="1128.9" x2="1578.2" y2="1131.5" stroke="#555" stroke-width="1.9"/>
<line x1="1558.7" y1="1128.9" x2="1597.7" y2="1128.9" stroke="#555" stroke-width="1.9"/>
<rect x="1539.6" y="1131.5" width="77.2" height="28" fill="#000" stroke="#000" stroke-width="1" stroke-linejoin="round"/>
<line x1="1281.5" y1="1160" x2="1637.4" y2="1160" stroke="#000" stroke-width="3.6"/>
<line x1="1347" y1="803.4" x2="1580.3" y2="803.4" stroke="#333" stroke-width="2.7"/>
<text class="s" x="1457.65" y="791.8" font-size="34" text-anchor="middle" letter-spacing="2.9">**</text>
<line x1="1466.3" y1="870.7" x2="1578.1" y2="870.7" stroke="#333" stroke-width="2.7"/>
<text class="s" x="1517.2" y="857.3" font-size="34" text-anchor="middle">*</text>
<text class="b" transform="translate(1231.8 981.8) rotate(-90)" font-size="28.8" text-anchor="middle" textLength="250.3" lengthAdjust="spacingAndGlyphs">Competitive index</text>
<text class="m" transform="translate(1351.7 1202) scale(1 1.1)" font-size="20.3" text-anchor="middle" textLength="51.6" lengthAdjust="spacingAndGlyphs">LF82/</text>
<text class="m" transform="translate(1353.2 1230) scale(1 1.1)" font-size="20.3" text-anchor="middle" textLength="100.4" lengthAdjust="spacingAndGlyphs">LF82Δ<tspan font-style="italic">eutB</tspan></text>
<text class="m" transform="translate(1471 1202) scale(1 1.1)" font-size="20.3" text-anchor="middle" textLength="51.6" lengthAdjust="spacingAndGlyphs">LF82/</text>
<text class="m" transform="translate(1471.4 1230) scale(1 1.1)" font-size="20.3" text-anchor="middle" textLength="78.4" lengthAdjust="spacingAndGlyphs">MG1655</text>
<text class="m" transform="translate(1589.1 1202) scale(1 1.1)" font-size="20.3" text-anchor="middle" textLength="108.8" lengthAdjust="spacingAndGlyphs">LF82Δ<tspan font-style="italic">eutB</tspan>/</text>
<text class="m" transform="translate(1588.8 1230) scale(1 1.1)" font-size="20.3" text-anchor="middle" textLength="79" lengthAdjust="spacingAndGlyphs">MG1655</text>
</g>
</svg>
</body>
</html>
